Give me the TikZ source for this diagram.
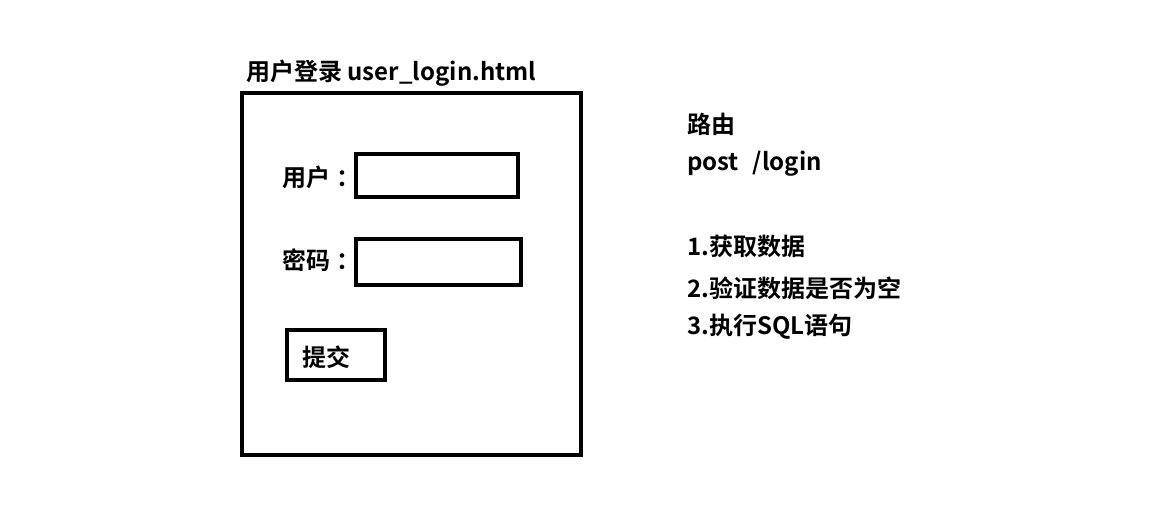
\documentclass[tikz,border=0pt]{standalone}
\usepackage{fontspec}
\setmainfont{Noto Sans CJK SC}[BoldFont={Noto Sans CJK SC Bold}]
\usepackage{tikz}

\begin{document}
\begin{tikzpicture}[x=1pt, y=-1pt, font=\bfseries\fontsize{24}{28}\selectfont,
    box/.style={draw, line width=4.5pt},
    txt/.style={anchor=west, inner sep=0pt}]
  \useasboundingbox (0,0) rectangle (1172,515);
  % --- login page ---
  \draw[box] (242,93) rectangle (581,455);
  \node[txt] (title) at (246,73) {用户登录 user\_login.html};
  \node[txt] (user) at (282,177) {用户\hspace{6pt}：};
  \draw[box] (356,154) rectangle (518,197);
  \node[txt] (pass) at (282,260) {密码\hspace{6pt}：};
  \draw[box] (356,239) rectangle (521,285);
  \draw[box] (287,330) rectangle (385,380);
  \node[txt] (submit) at (302,357) {提交};
  % --- route ---
  \node[txt] (route) at (687,124) {路由};
  \node[txt] (post) at (687,164) {post\hspace{14pt}/login};
  \node[txt] (step1) at (687,246) {1.获取数据};
  \node[txt] (step2) at (687,288) {2.验证数据是否为空};
  \node[txt] (step3) at (687,327) {3.执行SQL语句};
\end{tikzpicture}
\end{document}
